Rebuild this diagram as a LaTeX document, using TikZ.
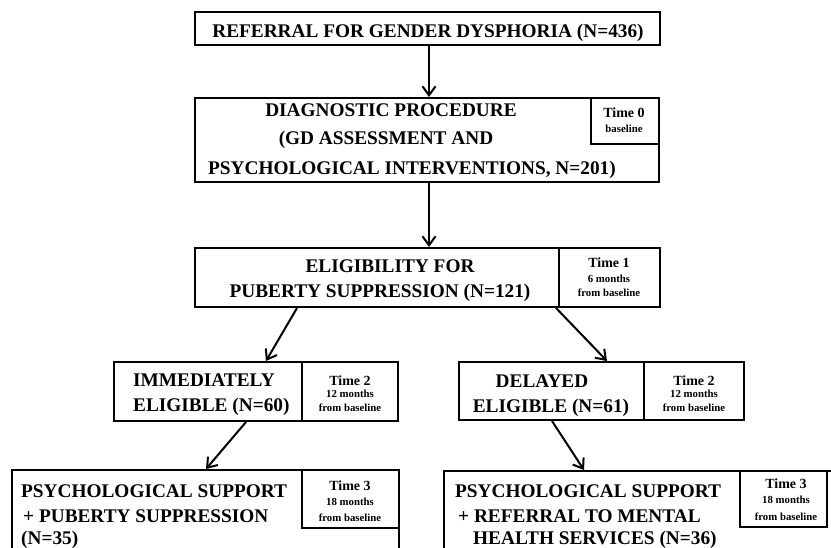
\documentclass[tikz,border=0pt]{standalone}
\usepackage{fontspec}
\setmainfont{Liberation Serif}
\usetikzlibrary{arrows.meta}
\begin{document}
\begin{tikzpicture}[x=1pt,y=-1pt,
  box/.style={draw=black,line width=2pt,minimum width=#1,inner sep=0pt,rectangle},
  big/.style={inner sep=0pt,font=\fontsize{19.3}{19.3}\selectfont\bfseries},
  tm/.style={inner sep=0pt,font=\fontsize{14}{14}\selectfont\bfseries},
  sub/.style={inner sep=0pt,font=\fontsize{10.8}{10.8}\selectfont\bfseries},
  conn/.style={line width=2pt,-{Straight Barb[length=9pt,width=13pt,line width=2pt]}}]
\useasboundingbox (0,0) rectangle (831,548);
\clip (0,0) rectangle (831,548);
% boxes
\node[box=465pt,minimum height=33pt] (b1) at (427.5,28.5) {};
\node[box=464pt,minimum height=84pt] (b2) at (427,140) {};
\node[box=68pt,minimum height=46pt] (t0) at (625,121) {};
\node[box=465pt,minimum height=59pt] (b3) at (427.5,277.5) {};
\node[box=101pt,minimum height=59pt] (t1) at (609.5,277.5) {};
\node[box=284pt,minimum height=59pt] (b4) at (256,391.5) {};
\node[box=96pt,minimum height=59pt] (t2a) at (350,391.5) {};
\node[box=285pt,minimum height=58pt] (b5) at (601.5,391) {};
\node[box=100pt,minimum height=58pt] (t2b) at (694,391) {};
\node[box=387pt,minimum height=130pt] (b6) at (205.5,535) {};
\node[box=97pt,minimum height=58pt] (t3a) at (350.5,499) {};
\node[box=456pt,minimum height=129pt] (b7) at (672,535.5) {};
\node[box=87pt,minimum height=56pt] (t3b) at (783.5,499) {};
% texts
\node[big,anchor=base] (l1) at (428,38) {REFERRAL FOR GENDER DYSPHORIA (N=436)};
\node[big,anchor=base] (l2a) at (391,117) {DIAGNOSTIC PROCEDURE};
\node[big,anchor=base] (l2b) at (386,145) {(GD ASSESSMENT AND};
\node[big,anchor=base] (l2c) at (412,175) {PSYCHOLOGICAL INTERVENTIONS, N=201)};
\node[tm,anchor=base] (l0a) at (624,118) {Time 0};
\node[sub,anchor=base] (l0b) at (624,133) {baseline};
\node[big,anchor=base] (l3a) at (390,273) {ELIGIBILITY FOR};
\node[big,anchor=base] (l3b) at (380,298) {PUBERTY SUPPRESSION (N=121)};
\node[tm,anchor=base] (l1a) at (609,268) {Time 1};
\node[sub,anchor=base] (l1b) at (609,283) {6 months};
\node[sub,anchor=base] (l1c) at (609,297) {from baseline};
\node[big,anchor=base west] (l4a) at (133,387) {IMMEDIATELY};
\node[big,anchor=base west] (l4b) at (133,412) {ELIGIBLE (N=60)};
\node[tm,anchor=base] (l4c) at (350,386) {Time 2};
\node[sub,anchor=base] (l4d) at (350,398) {12 months};
\node[sub,anchor=base] (l4e) at (350,412) {from baseline};
\node[big,anchor=base] (l5a) at (542,388) {DELAYED};
\node[big,anchor=base] (l5b) at (551,413) {ELIGIBLE (N=61)};
\node[tm,anchor=base] (l5c) at (694,386) {Time 2};
\node[sub,anchor=base] (l5d) at (694,398) {12 months};
\node[sub,anchor=base] (l5e) at (694,412) {from baseline};
\node[big,anchor=base west] (l6a) at (21,497) {PSYCHOLOGICAL SUPPORT};
\node[big,anchor=base west] (l6b) at (23,522) {+ PUBERTY SUPPRESSION};
\node[big,anchor=base west] (l6c) at (21,544) {(N=35)};
\node[tm,anchor=base] (l6d) at (350,490) {Time 3};
\node[sub,anchor=base] (l6e) at (350,505) {18 months};
\node[sub,anchor=base] (l6f) at (350,521) {from baseline};
\node[big,anchor=base west] (l7a) at (455,497) {PSYCHOLOGICAL SUPPORT};
\node[big,anchor=base west] (l7b) at (458,522) {+ REFERRAL TO MENTAL};
\node[big,anchor=base west] (l7c) at (473,544) {HEALTH SERVICES (N=36)};
\node[tm,anchor=base] (l7d) at (786,488) {Time 3};
\node[sub,anchor=base] (l7e) at (786,503) {18 months};
\node[sub,anchor=base] (l7f) at (786,520) {from baseline};
% connectors
\draw[conn] ([xshift=1.5pt]b1.south) -- ([xshift=2pt]b2.north);
\draw[conn] ([xshift=2pt]b2.south) -- ([xshift=1.5pt]b3.north);
\draw[conn] ([xshift=103pt]b3.south west) -- ([xshift=153pt]b4.north west);
\draw[conn] ([xshift=362pt]b3.south west) -- ([xshift=149pt]b5.north west);
\draw[conn] ([xshift=133pt]b4.south west) -- ([xshift=195pt]b6.north west);
\draw[conn] ([xshift=94pt]b5.south west) -- ([xshift=141pt]b7.north west);
\end{tikzpicture}
\end{document}
